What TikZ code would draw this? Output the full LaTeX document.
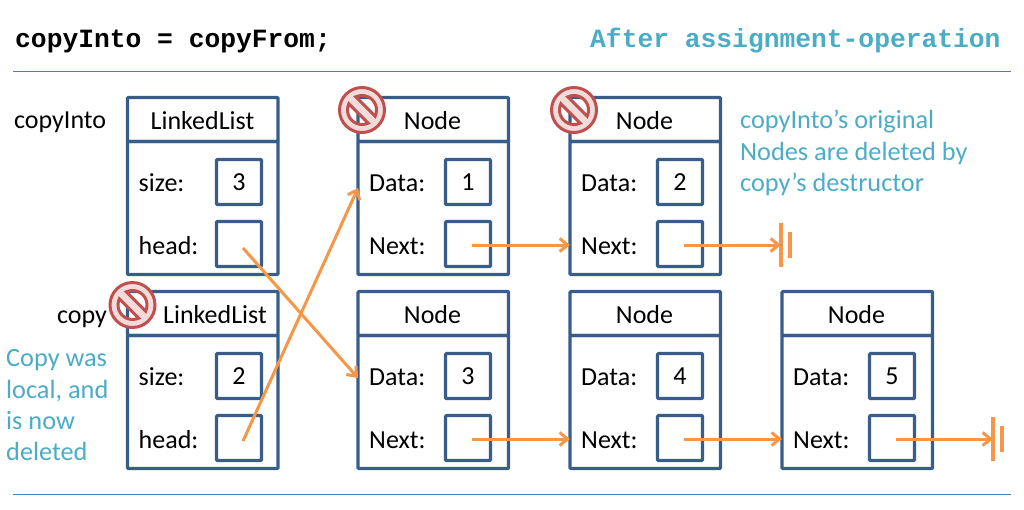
\documentclass[tikz,border=0pt]{standalone}
\usepackage{fontspec}
\setmainfont{Carlito}
\newfontfamily\codefont{Liberation Mono}
\usetikzlibrary{arrows.meta}
\definecolor{boxblue}{HTML}{385D8A}
\definecolor{rulec}{HTML}{4A7EBB}
\definecolor{ptr}{HTML}{F79646}
\definecolor{teal}{HTML}{4BACC6}
\definecolor{nored}{HTML}{C0504D}
\definecolor{nopink}{HTML}{F2DCDB}
\tikzset{
  framebox/.style={draw=boxblue,line width=3.2pt,rounded corners=1pt,minimum width=150.5pt,inner sep=0pt,outer sep=0pt,anchor=north west},
  valbox/.style={draw=boxblue,line width=3.2pt,rounded corners=1pt,minimum width=45pt,minimum height=45pt,inner sep=0pt,outer sep=0pt,anchor=north west,font=\fontsize{26}{26}\selectfont},
  lbl/.style={inner sep=0pt,anchor=base west,font=\fontsize{26}{26}\selectfont},
  ttl/.style={inner sep=0pt,anchor=base,font=\fontsize{26}{26}\selectfont},
  valtxt/.style={font=\fontsize{26}{26}\selectfont},
  note/.style={inner sep=0pt,anchor=north west,align=left,text=teal,font=\fontsize{26.3}{31.4}\selectfont},
  code/.style={inner sep=0pt,anchor=base west,font=\fontsize{26.3}{26.3}\selectfont\codefont\bfseries},
  rulel/.style={draw=rulec,line width=1pt},
  ptrl/.style={draw=ptr,line width=3pt,-{Straight Barb[length=8pt,width=13pt,line width=3pt]}},
  bar/.style={draw=ptr,line width=4pt},
  nosign/.style={draw=nored,fill=nopink,line width=3pt,even odd rule}
}
\newcommand\structbox[8]{
  \node[framebox,minimum height=44pt] (#1-t) at (#2,#3) {};
  \node[framebox,minimum height=133pt] (#1-b) at (#2,#3+44) {};
  \node[ttl] (#1-title) at (#4,#3+32) {#5};
  \node[lbl] (#1-l1) at (#2+11,#3+94) {#6};
  \node[lbl] (#1-l2) at (#2+11,#3+157) {#7};
  \node[valbox] (#1-v1) at (#2+#8,#3+62) {};
  \node[valbox] (#1-v2) at (#2+#8,#3+124) {};
}
\newcommand\prohibit[2]{
  \path[nosign,shift={(#1,#2)}] (0,0) circle (22.5pt)
    (-25:14.5pt) arc[start angle=-25,end angle=115,radius=14.5pt] -- cycle
    (155:14.5pt) arc[start angle=155,end angle=295,radius=14.5pt] -- cycle;
}
\begin{document}
\begin{tikzpicture}[x=1pt,y=-1pt]
\useasboundingbox (0,0) rectangle (1024,509);
% header
\node[code] (hcode) at (15,47) {copyInto = copyFrom;};
\node[code,text=teal] (hafter) at (590,47) {After assignment-operation};
\coordinate (r1a) at (13,71); \coordinate (r1b) at (1011,71);
\coordinate (r2a) at (13,494); \coordinate (r2b) at (1011,494);
\draw[rulel] (r1a) -- (r1b);
\draw[rulel] (r2a) -- (r2b);
% structures
\structbox{la}{127.5}{97.5}{202.5}{LinkedList}{size:}{head:}{89}
\structbox{lb}{127.5}{291.5}{215}{LinkedList}{size:}{head:}{89}
\structbox{na}{358}{97.5}{432.5}{Node}{Data:}{Next:}{87.5}
\structbox{nb}{570}{97.5}{644.5}{Node}{Data:}{Next:}{87.5}
\structbox{nc}{358}{291.5}{432.5}{Node}{Data:}{Next:}{87.5}
\structbox{nd}{570}{291.5}{644.5}{Node}{Data:}{Next:}{87.5}
\structbox{ne}{782}{291.5}{856.5}{Node}{Data:}{Next:}{87.5}
\node[valtxt] (va) at (la-v1.center) {3};
\node[valtxt] (vb) at (lb-v1.center) {2};
\node[valtxt] (v1) at (na-v1.center) {1};
\node[valtxt] (v2) at (nb-v1.center) {2};
\node[valtxt] (v3) at (nc-v1.center) {3};
\node[valtxt] (v4) at (nd-v1.center) {4};
\node[valtxt] (v5) at (ne-v1.center) {5};
% side labels
\node[lbl] (lcopyinto) at (14,128) {copyInto};
\node[lbl] (lcopy) at (57,323) {copy};
\node[note] (n1) at (740,110) {copyInto’s original\\Nodes are deleted by\\copy’s destructor};
\node[note] (n2) at (6,349.5) {Copy was\\local, and\\is now\\deleted};
% pointer anchors
\coordinate (pla) at (243,248);
\coordinate (plb) at (243,441);
\coordinate (pna) at (472,245);
\coordinate (pnb) at (684,245);
\coordinate (pnc) at (472,439);
\coordinate (pnd) at (684,439);
\coordinate (pne) at (896,439);
\coordinate (ina) at (358,188);
\coordinate (inc) at (358,378);
\coordinate (nxb) at (570,245);
\coordinate (nxd) at (570,439);
\coordinate (nxe) at (782,439);
\coordinate (g1) at (781,245);
\coordinate (g2) at (993,439);
% connectors
\draw[ptrl] (pla) -- (inc);
\draw[ptrl] (plb) -- (ina);
\draw[ptrl] (pna) -- (nxb);
\draw[ptrl] (pnb) -- (g1);
\draw[ptrl] (pnc) -- (nxd);
\draw[ptrl] (pnd) -- (nxe);
\draw[ptrl] (pne) -- (g2);
\draw[bar] ([yshift=22pt]g1) -- ([yshift=-22pt]g1);
\draw[bar] ([xshift=9pt,yshift=13pt]g1) -- ([xshift=9pt,yshift=-13pt]g1);
\draw[bar] ([yshift=22pt]g2) -- ([yshift=-22pt]g2);
\draw[bar] ([xshift=9pt,yshift=13pt]g2) -- ([xshift=9pt,yshift=-13pt]g2);
% deletion marks
\prohibit{362}{110}
\prohibit{574}{110}
\prohibit{132.5}{305}
\end{tikzpicture}
\end{document}
